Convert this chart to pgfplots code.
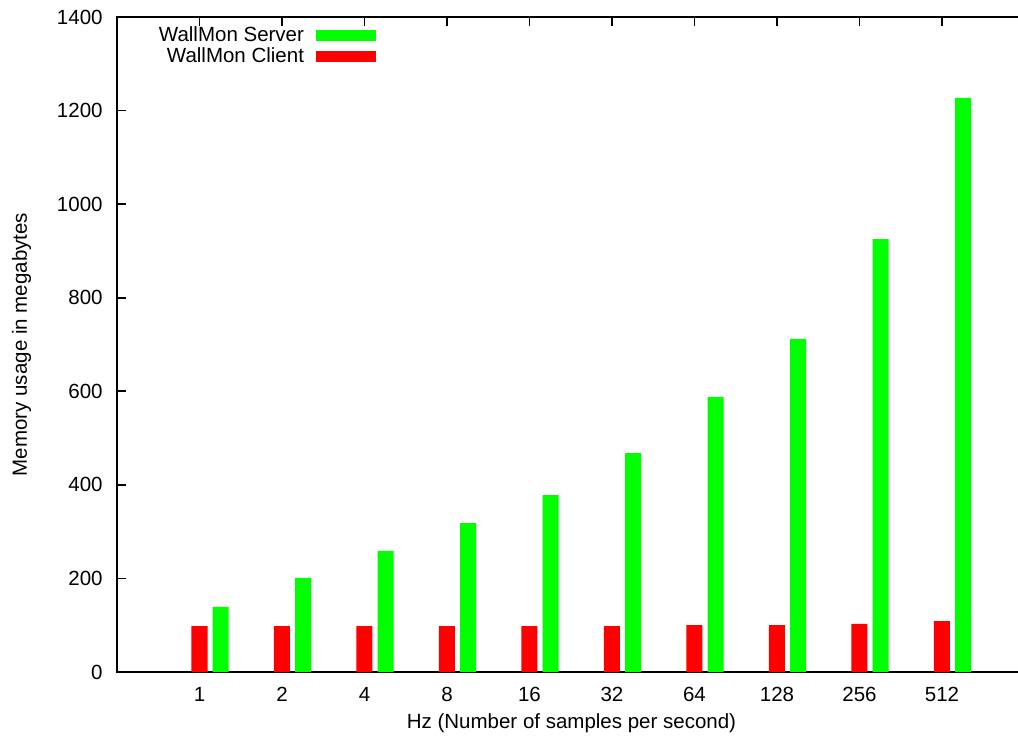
\documentclass[border=0pt]{standalone}
\usepackage{fontspec}
\setmainfont{Liberation Sans}
\usepackage{pgfplots}
\pgfplotsset{compat=1.18}
\definecolor{srvgreen}{RGB}{0,255,0}
\definecolor{clired}{RGB}{255,0,0}

\begin{document}
\begin{tikzpicture}[font=\fontsize{10.25}{12.3}\selectfont]
\begin{axis}[
  at={(0,0)}, anchor=south west,
  scale only axis, width=452.5pt, height=327.5pt,
  xmin=-1, xmax=9.97, ymin=0, ymax=1400,
  axis line style={line width=1pt, black},
  every tick/.style={black, line width=0.8pt},
  tick align=inside, major tick length=4.5pt,
  xtick={0,...,9},
  xticklabels={1,2,4,8,16,32,64,128,256,512},
  xtick pos=right, xticklabel pos=left,
  ytick={0,200,...,1400},
  ytick pos=left,
  /pgf/number format/assume math mode=true,
  /pgf/number format/1000 sep={},
  xticklabel style={inner sep=0pt, anchor=north, yshift=-7.5pt},
  yticklabel style={inner sep=0pt, anchor=east, xshift=-7pt},
  xlabel={Hz (Number of samples per second)},
  ylabel={Memory usage in megabytes},
  xlabel style={at={(axis description cs:0.5022,-0.0780)}, anchor=center, inner sep=0pt},
  ylabel style={at={(axis description cs:-0.1055,0.5)}, anchor=center, inner sep=0pt},
  reverse legend,
  legend cell align=right,
  legend plot pos=right,
  legend style={draw=none, fill=none,
    at={(axis description cs:0,1)}, anchor=north east,
    xshift=129.5pt, yshift=-5pt,
    inner sep=0pt, outer sep=0pt, row sep=0pt, column sep=6pt,
    nodes={inner sep=0pt, text height=7.5pt, text depth=3pt}},
]
% client memory (red) sits on the tick, server memory (green) to its right
\addplot[ybar, bar width=0.194, bar shift=0, fill=clired, draw=none,
  legend image code/.code={\fill[clired] (0pt,-2pt) rectangle (30pt,3.5pt);}]
  coordinates {(0,98) (1,98) (2,98) (3,98) (4,98) (5,98) (6,100) (7,100) (8,103) (9,109)};
\addlegendentry{WallMon Client}
\addplot[ybar, bar width=0.194, bar shift=0.255, fill=srvgreen, draw=none,
  legend image code/.code={\fill[srvgreen] (0pt,-2pt) rectangle (30pt,3.5pt);}]
  coordinates {(0,139) (1,201) (2,259) (3,318) (4,378) (5,468) (6,588) (7,712) (8,925) (9,1227)};
\addlegendentry{WallMon Server}
\end{axis}
\pgfresetboundingbox
\path[use as bounding box] (-58.5pt,-34pt) rectangle (450.5pt,336pt);
\end{tikzpicture}
\end{document}
